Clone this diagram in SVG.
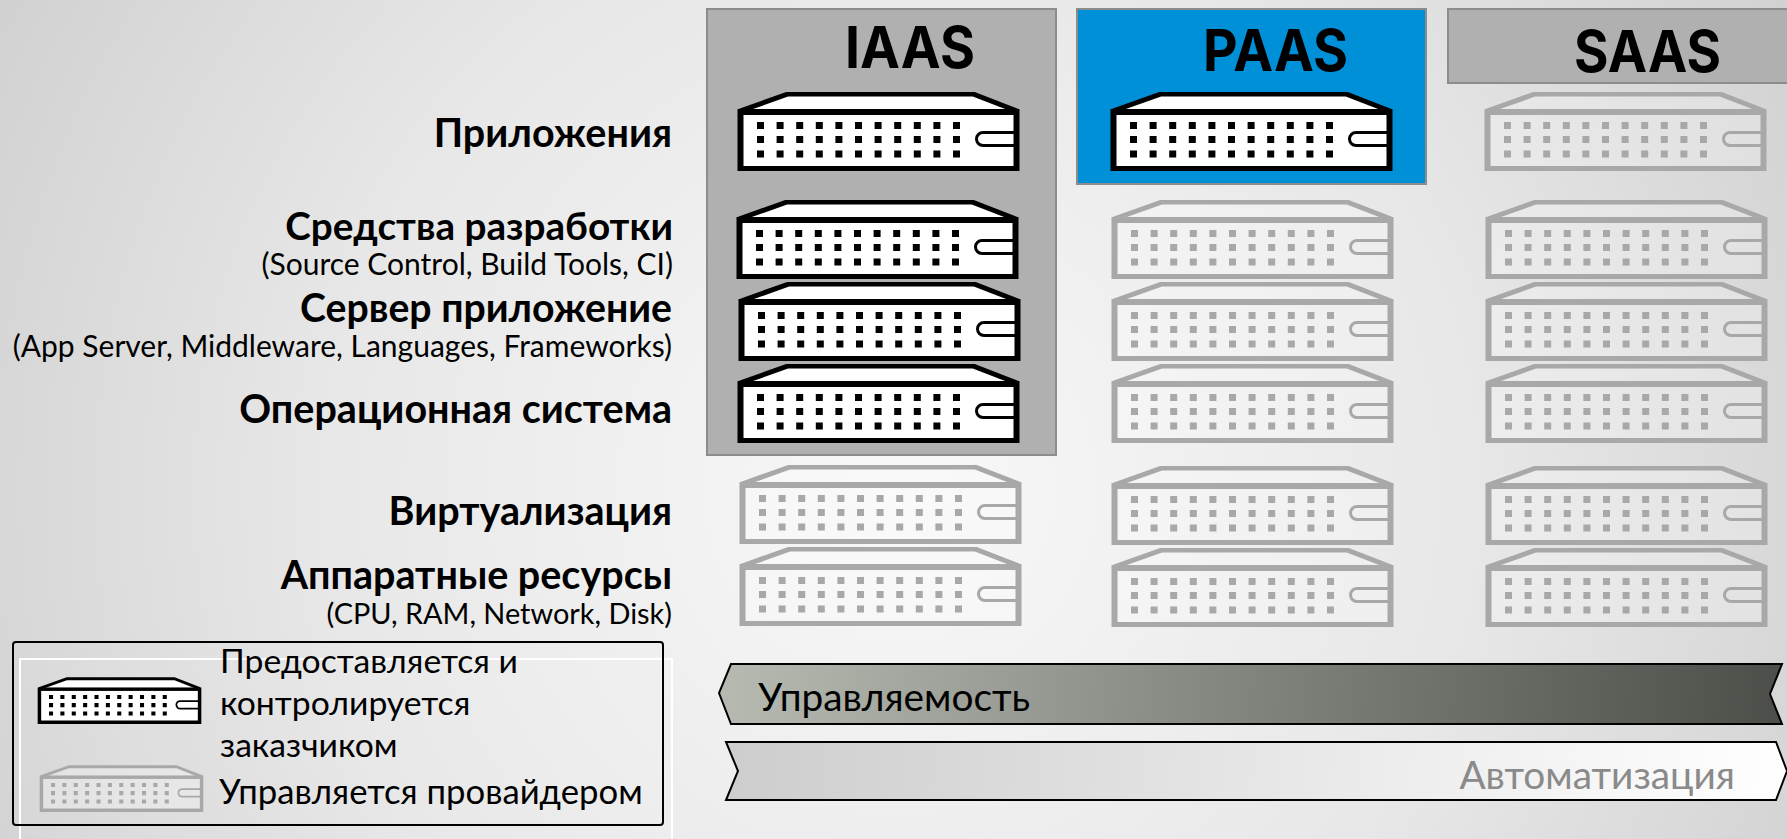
<svg xmlns="http://www.w3.org/2000/svg" width="1787" height="839" viewBox="0 0 1787 839">
<style>
text{font-family:"Lato","Noto Sans",sans-serif;fill:#000}
.h{font-size:39.500px;font-weight:700;text-anchor:end}
.s{font-size:30px;text-anchor:end}
.t{font-family:"Inter","Lato",sans-serif;font-size:58px;font-weight:700}
.l{font-size:33.700px}
.b{font-size:38.800px}
.panel{stroke:#8c8c8c;stroke-width:2}
.blk{fill:#fff;stroke:#000;color:#000;filter:url(#crisp)}
.gry{fill:#fff;fill-opacity:.25;stroke:#a8a8a8;color:#a8a8a8;filter:url(#soft)}
</style>
<defs>
<radialGradient id="bg" gradientUnits="userSpaceOnUse" cx="900" cy="490" r="1060">
<stop offset="0" stop-color="#f8f8f8"/><stop offset=".55" stop-color="#e7e7e7"/><stop offset="1" stop-color="#cfcfcf"/>
</radialGradient>
<linearGradient id="ga" gradientUnits="userSpaceOnUse" x1="719" y1="664" x2="1782" y2="724"><stop offset="0" stop-color="#b6bab1"/><stop offset="1" stop-color="#4c4e49"/></linearGradient>
<linearGradient id="gb" gradientUnits="userSpaceOnUse" x1="726" y1="742" x2="1787" y2="800"><stop offset="0" stop-color="#cdcdcd"/><stop offset="1" stop-color="#ffffff"/></linearGradient>
<filter id="soft" x="-2%" y="-2%" width="104%" height="104%"><feGaussianBlur stdDeviation=".5"/></filter>
<filter id="crisp" x="-2%" y="-2%" width="104%" height="104%"><feGaussianBlur stdDeviation=".35"/></filter>
<symbol id="srv" viewBox="0 0 283 81" width="283" height="81" overflow="visible">
<path d="M3 20 L51 3 H236 L280 20" stroke-width="5"/>
<rect x="3.500" y="21" width="276" height="57" stroke-width="6"/>
<path d="M20 34.500H224 M20 48.500H224 M20 63H224" fill="none" stroke="currentColor" stroke-width="7" stroke-dasharray="7 12.600"/>
<path d="M279 41.500H246a6.500 6.500 0 0 0 0 13H279" fill="none" stroke-width="3"/>
</symbol>
</defs>
<rect id="background" width="1787" height="839" fill="url(#bg)"/>

<g id="iaas-panel"><rect class="panel" x="707" y="9" width="349" height="446" fill="#b0b0b0"/><text class="t" x="845" y="68" textLength="130" lengthAdjust="spacingAndGlyphs">IAAS</text></g>
<g id="paas-panel"><rect class="panel" x="1077" y="9" width="349" height="175" fill="#0090d8"/><text class="t" x="1203" y="71" textLength="145" lengthAdjust="spacingAndGlyphs">PAAS</text></g>
<g id="saas-panel"><rect class="panel" x="1448" y="9" width="345" height="74" fill="#b0b0b0"/><text class="t" x="1574" y="72" textLength="147" lengthAdjust="spacingAndGlyphs">SAAS</text></g>

<g id="labels">
<text class="h" x="672" y="147">Приложения</text>
<text class="h" x="673" y="240" style="font-size:38.700px">Средства разработки</text>
<text class="s" x="673" y="275">(Source Control, Build Tools, CI)</text>
<text class="h" x="672" y="322" style="font-size:39.200px">Сервер приложение</text>
<text class="s" x="672" y="357">(App Server, Middleware, Languages, Frameworks)</text>
<text class="h" x="672" y="423">Операционная система</text>
<text class="h" x="672" y="525">Виртуализация</text>
<text class="h" x="672" y="589">Аппаратные ресурсы</text>
<text class="s" x="672" y="624" style="font-size:28.900px">(CPU, RAM, Network, Disk)</text>
</g>

<g id="iaas-app" class="blk"><use href="#srv" x="737" y="91"/></g>
<g id="iaas-dev" class="blk"><use href="#srv" x="736" y="199"/></g>
<g id="iaas-server" class="blk"><use href="#srv" x="738" y="281"/></g>
<g id="iaas-os" class="blk"><use href="#srv" x="737" y="363"/></g>
<g id="iaas-virt" class="gry"><use href="#srv" x="739" y="464"/></g>
<g id="iaas-hw" class="gry"><use href="#srv" x="739" y="546"/></g>

<g id="paas-app" class="blk"><use href="#srv" x="1110" y="91"/></g>
<g id="paas-dev" class="gry"><use href="#srv" x="1111" y="199"/></g>
<g id="paas-server" class="gry"><use href="#srv" x="1111" y="281"/></g>
<g id="paas-os" class="gry"><use href="#srv" x="1111" y="363"/></g>
<g id="paas-virt" class="gry"><use href="#srv" x="1111" y="465"/></g>
<g id="paas-hw" class="gry"><use href="#srv" x="1111" y="547"/></g>

<g id="saas-app" class="gry"><use href="#srv" x="1484" y="91"/></g>
<g id="saas-dev" class="gry"><use href="#srv" x="1485" y="199"/></g>
<g id="saas-server" class="gry"><use href="#srv" x="1485" y="281"/></g>
<g id="saas-os" class="gry"><use href="#srv" x="1485" y="363"/></g>
<g id="saas-virt" class="gry"><use href="#srv" x="1485" y="465"/></g>
<g id="saas-hw" class="gry"><use href="#srv" x="1485" y="547"/></g>

<g id="manageability"><path d="M731 664H1782L1770 694L1782 724H731L719 693Z" fill="url(#ga)" stroke="#000" stroke-width="2"/><text class="b" x="758" y="711">Управляемость</text></g>
<g id="automation"><path d="M726 742H1776L1787 771L1776 800H726L738 771Z" fill="url(#gb)" stroke="#000" stroke-width="2"/><text class="b" x="1735" y="789" text-anchor="end" style="fill:#8a8a8a">Автоматизация</text></g>

<g id="legend">
<rect x="20" y="659" width="652" height="190" fill="#fff" fill-opacity=".06" stroke="#fff" stroke-width="2"/>
<rect x="13" y="642" width="650" height="183" rx="3" fill="none" stroke="#000" stroke-width="2"/>
<g class="blk"><use href="#srv" width="165" height="47" x="37" y="677"/></g>
<g class="gry"><use href="#srv" width="165" height="47" x="39" y="765"/></g>
<text class="l" x="220" y="673">Предоставляется и</text>
<text class="l" x="220" y="715">контролируется</text>
<text class="l" x="220" y="757">заказчиком</text>
<text class="l" x="219" y="804" style="font-size:34.700px">Управляется провайдером</text>
</g>
</svg>
